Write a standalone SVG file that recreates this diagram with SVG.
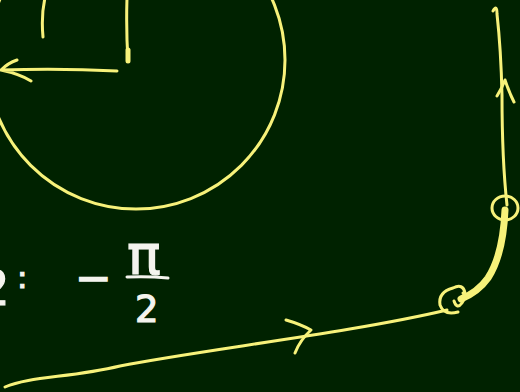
<svg xmlns="http://www.w3.org/2000/svg" width="520" height="392" viewBox="0 0 520 392">
<style>
.y{fill:none;stroke:#f7f27a;stroke-width:3;stroke-linecap:round;stroke-linejoin:round}
.w{fill:#f4f4ee;stroke:#f4f4ee;stroke-width:1.2;font-family:"DejaVu Sans","Liberation Sans",sans-serif}
</style>
<rect width="520" height="392" fill="#002200"/>
<g id="drawing">
<circle class="y" cx="136" cy="60" r="149"/>
<path class="y" d="M45 -2 Q41 15 43 37"/>
<path class="y" d="M127 -2 Q126 30 128 61" />
<path class="y" d="M128 50 L128 61" style="stroke-width:5"/>
<path class="y" d="M117 71 Q60 68 1 70 M17 60 Q8 63 1 70 Q20 74 31 81"/>
<path class="y" d="M493 11 Q497 4 497 14 Q501 50 502 95 Q502 160 507 205"/>
<path class="y" d="M497 96 Q502 88 505 80 Q509 92 514 102"/>
<ellipse class="y" cx="505" cy="208" rx="13" ry="12"/>
<path class="y" d="M505 210 Q503 255 488 278 Q478 292 461 299" style="stroke-width:7"/>
<path class="y" d="M465 293 Q463 283 453 288 Q438 292 440 305 Q444 316 458 312 M454 301 Q457 310 462 303 Q467 296 463 293"/>
<path class="y" d="M5 387 C30 376 70 378 120 366 C200 350 350 333 447 310"/>
<path class="y" d="M286 320 Q300 324 311 330 Q300 340 295 353"/>
</g>
<g id="labels">
<text class="w" x="-22" y="305" font-size="50">2</text>
<text class="w" x="17" y="288" font-size="31">:</text>
<text class="w" x="75" y="293" font-size="44">−</text>
<text class="w" x="127" y="274" font-size="56">π</text>
<path d="M127 277 Q148 276 168 278" fill="none" stroke="#f4f4ee" stroke-width="3" stroke-linecap="round"/>
<text class="w" x="135" y="322" font-size="37">2</text>
</g>
</svg>
